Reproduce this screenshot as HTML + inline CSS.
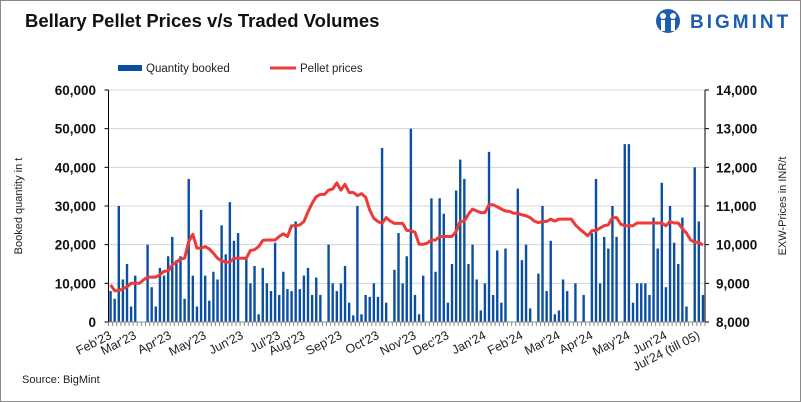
<!DOCTYPE html>
<html><head><meta charset="utf-8"><style>
html,body{margin:0;padding:0;background:#fff}
svg{display:block;font-family:"Liberation Sans",Arial,sans-serif}
</style></head><body>
<svg width="801" height="402" viewBox="0 0 801 402">
<rect x="0.5" y="0.5" width="800" height="401" fill="#fff" stroke="#8a8a8a"/>
<text x="25" y="27" font-size="18.5" font-weight="bold" fill="#111">Bellary Pellet Prices v/s Traded Volumes</text>
<g>
<circle cx="668" cy="21" r="12" fill="#1d5fae"/>
<circle cx="663" cy="16" r="3" fill="#fff"/><circle cx="673" cy="16" r="3" fill="#fff"/>
<rect x="661" y="20" width="4" height="11" fill="#fff"/><rect x="671" y="20" width="4" height="11" fill="#fff"/>
<text x="690" y="28" font-size="19" font-weight="bold" fill="#1d5fae" letter-spacing="3">BIGMINT</text>
</g>
<g>
<rect x="118" y="65" width="24" height="6" fill="#0b4fa3"/>
<text x="146" y="72" font-size="11.5" fill="#222">Quantity booked</text>
<rect x="270" y="66.5" width="26" height="3" fill="#ee3a36"/>
<text x="300" y="72" font-size="11.5" fill="#222">Pellet prices</text>
</g>
<g id="grid"></g>
<g id="bars"></g>
<path id="line" fill="none" stroke="#ee3a36" stroke-width="3" stroke-linejoin="round"/>
<g id="axes"></g>
<text transform="translate(22,206) rotate(-90)" text-anchor="middle" font-size="11" fill="#222">Booked quantity in t</text>
<text transform="translate(786,206) rotate(-90)" text-anchor="middle" font-size="11" fill="#222">EXW-Prices in INR/t</text>
<text x="22" y="383" font-size="11" fill="#222">Source: BigMint</text>
</svg>
<script>
const qty=[8000,6000,30000,11000,15000,4000,12000,0,0,20000,9000,4000,14000,12000,17000,22000,16000,17000,6000,37000,12000,4000,29000,12000,5500,13000,11000,25000,17500,31000,21000,23000,0,16500,10000,14500,2000,14000,10000,8000,20500,7000,13000,8500,8000,26000,8500,12000,14000,7000,11500,7000,0,20000,10000,8000,10000,14500,5000,1700,30000,2000,7000,6500,10000,6500,45000,5000,0,13500,23000,10000,17000,50000,7000,2000,12000,0,32000,13000,32000,28000,5000,15000,34000,42000,37000,15000,20000,11000,3000,10000,44000,7000,18500,5000,19000,0,0,34500,16000,20000,3500,0,12500,30000,8000,21000,2000,3000,11000,8000,0,10000,0,7000,0,23000,37000,10000,22000,19000,30000,22000,0,46000,46000,5000,10000,10000,10000,7000,27000,19000,36000,9000,30000,20500,15000,27000,4000,0,40000,26000,7000];
const price=[8960,8810,8810,8860,8910,9000,9000,9000,9090,9160,9160,9160,9220,9310,9320,9480,9550,9630,9650,10080,10270,9910,9910,9950,9890,9780,9650,9580,9550,9550,9650,9650,9650,9650,9850,9870,9950,10110,10120,10120,10120,10210,10280,10210,10490,10490,10510,10600,10850,11070,11240,11300,11300,11410,11440,11600,11410,11560,11350,11350,11270,11320,11230,10900,10680,10600,10550,10700,10610,10550,10550,10550,10370,10360,10320,10010,10010,10040,10120,10120,10210,10210,10210,10210,10340,10600,10610,10790,10920,10870,10830,10830,11030,11030,10980,10920,10870,10860,10810,10810,10770,10750,10700,10610,10570,10600,10600,10660,10610,10660,10660,10660,10660,10510,10410,10320,10230,10360,10370,10430,10490,10510,10700,10700,10530,10490,10490,10490,10560,10560,10560,10560,10560,10560,10560,10490,10600,10560,10560,10410,10300,10120,10060,10060,9990];
const leftTicks=[0,10000,20000,30000,40000,50000,60000];
const rightTicks=[8000,9000,10000,11000,12000,13000,14000];
const monthLabels=["Feb'23","Mar'23","Apr'23","May'23","Jun'23","Jul'23","Aug'23","Sep'23","Oct'23","Nov'23","Dec'23","Jan'24","Feb'24","Mar'24","Apr'24","May'24","Jun'24","Jul'24 (till 05)"];
const monthSlot=[0,6,14.5,23,32,41,47,56,65,74,82,91,100,109,117,126,135,143];

const NS="http://www.w3.org/2000/svg";
const X0=108.5,X1=705,Y0=322,Y1=90,N=qty.length,SW=(X1-X0)/N;
const xS=i=>X0+SW*(i+0.5);
const yL=v=>Y0-(v/60000)*(Y0-Y1);
const yR=v=>Y0-((v-8000)/6000)*(Y0-Y1);
function mk(tag,at,parent){const e=document.createElementNS(NS,tag);for(const k in at)e.setAttribute(k,at[k]);parent.appendChild(e);return e;}
const grid=document.getElementById('grid'),bars=document.getElementById('bars'),axes=document.getElementById('axes');
leftTicks.forEach((t,i)=>{
  if(t>0){const g=mk('line',{x1:X0,x2:X1,y1:yL(t),y2:yL(t),stroke:'#d4d4d4','stroke-width':1},grid);
  
  }
  const tk=mk('line',{x1:X0-4,x2:X0,y1:yL(t),y2:yL(t),stroke:'#000'},axes);
  
  
  const tx=mk('text',{x:96,y:yL(t)+5,'text-anchor':'end','font-size':13.5,'font-weight':'bold',fill:'#111'},axes);
  tx.textContent=t.toLocaleString('en-US');
  
  
});
rightTicks.forEach(t=>{
  const tk=mk('line',{x1:X1,x2:X1+4,y1:yR(t),y2:yR(t),stroke:'#000'},axes);
  
  
  const tx=mk('text',{x:716,y:yR(t)+5,'font-size':13.5,'font-weight':'bold',fill:'#111'},axes);
  tx.textContent=t.toLocaleString('en-US');
  
  
});
qty.forEach((v,i)=>{
  if(v<=0)return;
  const r=mk('rect',{x:xS(i)-1.2,y:yL(v),width:2.4,height:Y0-yL(v),fill:'#0b4fa3'},bars);
  
  
});
document.getElementById('line').setAttribute('d',price.map((p,i)=>(i?'L':'M')+xS(i).toFixed(1)+','+yR(p).toFixed(1)).join(''));
const la=mk('line',{x1:X0,x2:X0,y1:Y1,y2:Y0,stroke:'#000'},axes);


const ra=mk('line',{x1:X1,x2:X1,y1:Y1,y2:Y0,stroke:'#000'},axes);


const xa=mk('line',{x1:X0,x2:X1,y1:Y0,y2:Y0,stroke:'#888'},axes);


for(let i=0;i<=N;i++){
  const t=mk('line',{x1:X0+SW*i,x2:X0+SW*i,y1:Y0,y2:Y0+4,stroke:'#888'},axes);
  
  
}
monthLabels.forEach((m,i)=>{
  const x=X0+SW*monthSlot[i]+4;
  const tx=mk('text',{'text-anchor':'end','font-size':12.5,fill:'#222',transform:`translate(${x},338) rotate(-27)`},axes);
  tx.textContent=m;
  
  
});
</script>
</body></html>
